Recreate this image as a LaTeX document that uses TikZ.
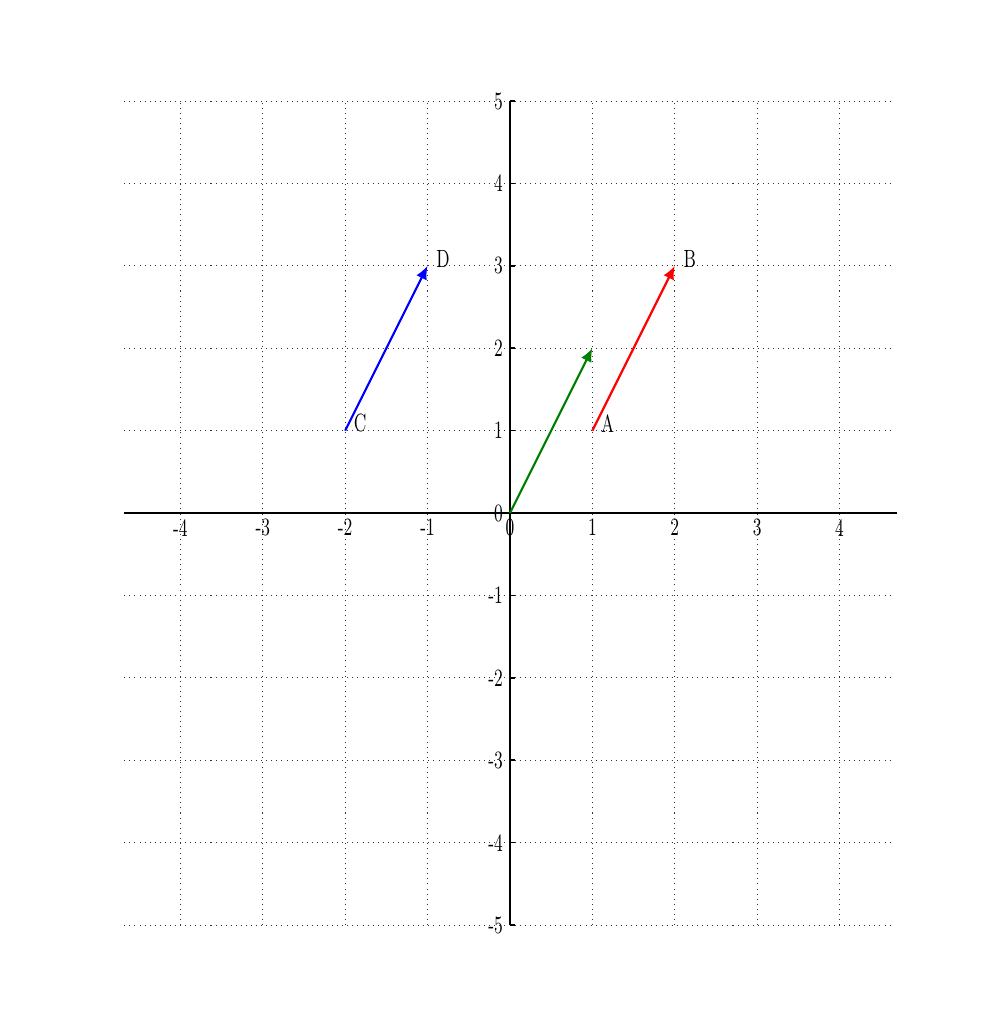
\documentclass[tikz,border=0pt]{standalone}
\usetikzlibrary{arrows.meta}
\newcommand{\narrowtxt}[1]{\scalebox{0.68}[1]{#1}}
\begin{document}
\begin{tikzpicture}[x=1cm,y=1cm,
  gridline/.style={line width=0.35pt,black!80,dash pattern=on 0.35pt off 1.4pt},
  axisline/.style={line width=0.6pt,black},
  ticklbl/.style={font=\fontsize{8.6}{9}\selectfont,inner sep=0pt},
  ptlbl/.style={font=\fontsize{8.6}{9}\selectfont,inner sep=0pt,anchor=south west},
  vec/.style={line width=0.75pt,-{Latex[length=4.6pt,width=4pt]}}]
\useasboundingbox (-6.189,-6.250) rectangle (5.874,6.226);
% grid
\foreach \i in {-4,...,4} \draw[gridline] (\i,-5) -- (\i,5);
\foreach \j in {-5,...,5} \draw[gridline] (-4.68,\j) -- (4.65,\j);
% axes
\coordinate (xl) at (-4.68,0); \coordinate (xr) at (4.7,0);
\coordinate (yb) at (0,-5); \coordinate (yt) at (0,5);
\draw[axisline] (xl) -- (xr);
\draw[axisline] (yb) -- (yt);
\foreach \j in {-5,...,5} \draw[axisline] (0,\j) -- (0.06,\j);
% tick labels
\foreach \i in {-4,...,4} \node[ticklbl,anchor=north] (xt\i) at (\i,-0.07) {\narrowtxt{\i}};
\foreach \j in {-5,...,5} \node[ticklbl,anchor=east] (yt\j) at (-0.08,\j) {\narrowtxt{\j}};
% points
\coordinate (O) at (0,0);
\coordinate (G) at (1,2);
\coordinate (A) at (1,1);
\coordinate (B) at (2,3);
\coordinate (C) at (-2,1);
\coordinate (D) at (-1,3);
\draw[vec,green!50!black] (O) -- (G);
\draw[vec,red] (A) -- (B);
\draw[vec,blue] (C) -- (D);
\node[ptlbl] (lA) at ([xshift=0.1cm,yshift=-0.03cm]A) {\narrowtxt{A}};
\node[ptlbl] (lB) at ([xshift=0.1cm,yshift=-0.03cm]B) {\narrowtxt{B}};
\node[ptlbl] (lC) at ([xshift=0.1cm,yshift=-0.03cm]C) {\narrowtxt{C}};
\node[ptlbl] (lD) at ([xshift=0.1cm,yshift=-0.03cm]D) {\narrowtxt{D}};
\end{tikzpicture}
\end{document}
